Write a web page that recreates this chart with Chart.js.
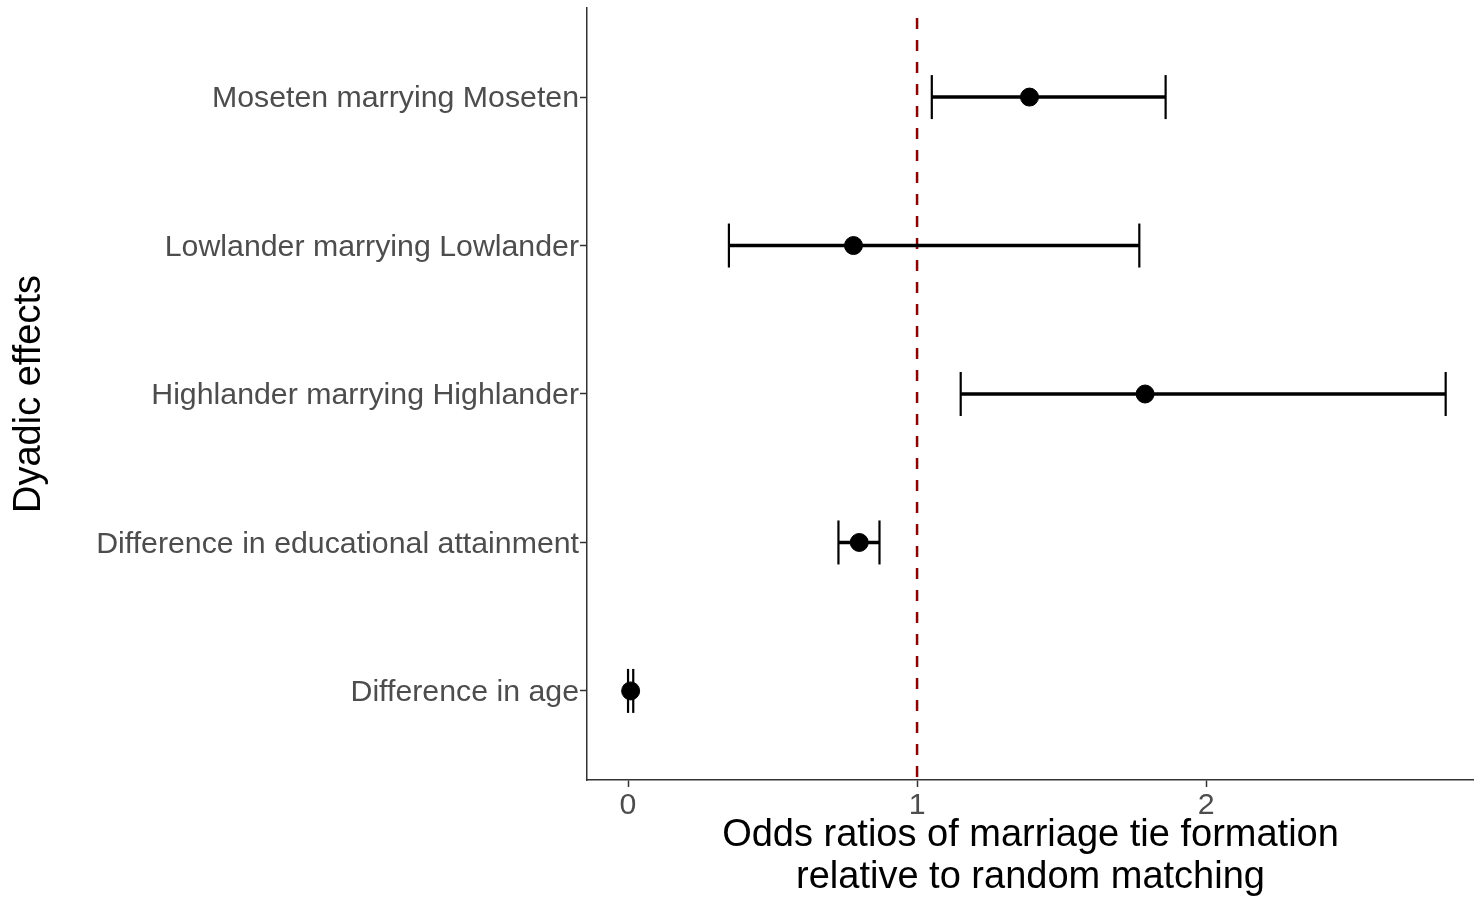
<!DOCTYPE html>
<html>
<head>
<meta charset="utf-8">
<script src="https://cdn.jsdelivr.net/npm/chart.js@4/dist/chart.umd.min.js"></script>
<style>
  body { margin: 0; background: #fff; }
  #wrap { width: 1474px; height: 899px; }
</style>
</head>
<body>
<div id="wrap"><canvas id="oddsChart" width="1474" height="899"></canvas></div>
<script>
// effects, bottom to top
const effects = ['Difference in age', 'Difference in educational attainment', 'Highlander marrying Highlander', 'Lowlander marrying Lowlander', 'Moseten marrying Moseten'];
const oddsRatio = [0.009, 0.800, 1.789, 0.780, 1.389];
const ciLow = [0.000, 0.728, 1.151, 0.349, 1.051];
const ciHigh = [0.018, 0.870, 2.829, 1.769, 1.860];
const xTicks = [0, 1, 2];
const refLine = 1;

const positions = effects.map((e, i) => i + 1);
const yMin = 0.4, yMax = positions.length + 0.6;

const tickFont = { family: 'Liberation Sans, Arial, sans-serif', size: 30.3 };
const titleFont = { family: 'Liberation Sans, Arial, sans-serif', size: 38, lineHeight: 1.105 };

const datasets = [];

// the estimate points
datasets.push({
  type: 'scatter',
  data: positions.map((p, i) => ({ x: oddsRatio[i], y: p })),
  backgroundColor: '#000',
  borderColor: '#000',
  pointRadius: 9,
  pointHoverRadius: 9,
  order: 0
});

// one error bar per effect, caps are rotated line points
positions.forEach((p, i) => {
  datasets.push({
    type: 'line',
    data: [{ x: ciLow[i], y: p }, { x: ciHigh[i], y: p }],
    borderColor: '#000',
    borderWidth: 3.5,
    pointStyle: 'line',
    pointRotation: 90,
    pointRadius: 22,
    pointHoverRadius: 22,
    pointBorderWidth: 2.2,
    pointBorderColor: '#000',
    order: 1
  });
});

// reference line at odds ratio 1
datasets.push({
  type: 'line',
  data: [{ x: refLine, y: yMin }, { x: refLine, y: yMax }],
  borderColor: '#8B0000',
  borderWidth: 2.5,
  borderDash: [11, 11],
  borderDashOffset: -3,
  pointRadius: 0,
  order: 2
});

const ctx = document.getElementById('oddsChart').getContext('2d');
new Chart(ctx, {
  type: 'scatter',
  data: { datasets: datasets },
  options: {
    responsive: false,
    animation: false,
    events: [],
    layout: { autoPadding: false, padding: { top: 8, right: 0, bottom: 0, left: 0 } },
    plugins: { legend: { display: false }, tooltip: { enabled: false } },
    scales: {
      x: {
        type: 'linear',
        min: -0.142,
        max: 2.927,
        afterBuildTicks: scale => { scale.ticks = xTicks.map(v => ({ value: v })); },
        afterFit: scale => {
          scale.height = 119;
          scale.paddingLeft = 0;
          scale.paddingRight = 0;
        },
        grid: { display: true, drawOnChartArea: false, drawTicks: true, tickLength: 7, tickColor: '#333', tickWidth: 1.5 },
        border: { display: true, color: '#333', width: 1.5 },
        ticks: { color: '#4D4D4D', font: tickFont, padding: 0, maxRotation: 0 },
        title: {
          display: true,
          text: ['Odds ratios of marriage tie formation', 'relative to random matching'],
          color: '#000',
          font: titleFont,
          padding: { top: 0, bottom: 0 }
        }
      },
      y: {
        type: 'linear',
        min: yMin,
        max: yMax,
        afterBuildTicks: scale => { scale.ticks = positions.map(v => ({ value: v })); },
        afterFit: scale => {
          scale.width = 587;
          scale.paddingTop = 0;
          scale.paddingBottom = 0;
        },
        grid: { display: true, drawOnChartArea: false, drawTicks: true, tickLength: 7, tickColor: '#333', tickWidth: 1.5 },
        border: { display: true, color: '#333', width: 1.5 },
        ticks: {
          color: '#4D4D4D',
          font: tickFont,
          padding: 1,
          labelOffset: 2,
          callback: v => effects[v - 1]
        },
        title: {
          display: true,
          text: 'Dyadic effects',
          color: '#000',
          font: { family: 'Liberation Sans, Arial, sans-serif', size: 38 },
          padding: { top: 7, bottom: 0 }
        }
      }
    }
  }
});
</script>
</body>
</html>
